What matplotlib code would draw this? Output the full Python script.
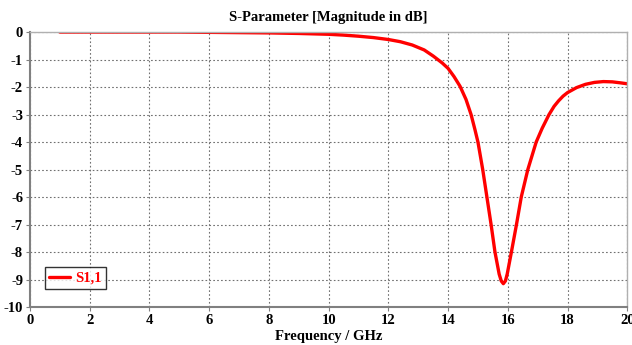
import numpy as np
import matplotlib.pyplot as plt

plt.rcParams['font.family'] = ['Liberation Serif', 'DejaVu Serif']
plt.rcParams['font.weight'] = 'bold'
plt.rcParams['axes.unicode_minus'] = False

freq = [1, 2, 3, 4, 5, 6, 7, 8, 9, 10, 10.5, 11, 11.5, 12, 12.4, 12.8, 13.2, 13.5, 13.8,
        14.0, 14.2, 14.4, 14.6, 14.77, 14.9, 15.0, 15.16, 15.3, 15.44, 15.57, 15.71, 15.78,
        15.85, 15.92, 15.98, 16.12, 16.29, 16.45, 16.67, 16.95, 17.15, 17.38, 17.55, 17.7,
        17.85, 18.0, 18.3, 18.6, 18.9, 19.2, 19.5, 19.8, 20.0]
s11 = [0.0, 0.0, 0.0, 0.0, 0.0, -0.01, -0.02, -0.03, -0.05, -0.08, -0.11, -0.15, -0.2,
       -0.27, -0.35, -0.47, -0.65, -0.87, -1.12,
       -1.32, -1.62, -1.97, -2.45, -3.0, -3.55, -4.0, -5.0, -6.0, -7.0, -8.0, -8.8, -9.05,
       -9.15, -9.05, -8.8, -8.0, -7.0, -6.0, -5.0, -4.0, -3.5, -3.0, -2.7, -2.5,
       -2.33, -2.2, -2.02, -1.9, -1.83, -1.8, -1.81, -1.85, -1.88]

fig = plt.figure(figsize=(6.32, 3.45), dpi=100)
ax = fig.add_axes([0.0475, 0.11, 0.945, 0.797])
ax.plot(freq, s11, color='#ff0000', lw=2.4, label='S1,1', solid_capstyle='round',
        solid_joinstyle='round')

ax.set_xlim(0, 20)
ax.set_ylim(-10, 0)
ax.set_xticks(np.arange(0, 21, 2))
ax.set_yticks(np.arange(-10, 1, 1))
ax.grid(True, linestyle=(0, (1.5, 2)), color='#707070', lw=0.8)
ax.tick_params(labelsize=10.5, length=3, color='#808080', pad=2)
for lab in ax.get_xticklabels() + ax.get_yticklabels():
    lab.set_fontweight('bold')
for s in ['left', 'bottom']:
    ax.spines[s].set_color('#808080')
    ax.spines[s].set_linewidth(1.5)
for s in ['top', 'right']:
    ax.spines[s].set_color('#b0b0b0')
    ax.spines[s].set_linewidth(1.0)

ax.set_title('S-Parameter [Magnitude in dB]', fontsize=10.5, fontweight='bold', pad=8)
ax.set_xlabel('Frequency / GHz', fontsize=10.5, fontweight='bold')
ax.xaxis.set_label_coords(0.5, -0.085)

leg = ax.legend(loc='lower left', bbox_to_anchor=(0.025, 0.065), fontsize=10.5,
                frameon=True, fancybox=False, handlelength=1.4, borderpad=0.3,
                handletextpad=0.4, borderaxespad=0)
leg.get_frame().set_edgecolor('black')
leg.get_frame().set_linewidth(1.0)
for t in leg.get_texts():
    t.set_color('#ff0000')
    t.set_fontweight('bold')

fig.savefig('out.png', dpi=100)
